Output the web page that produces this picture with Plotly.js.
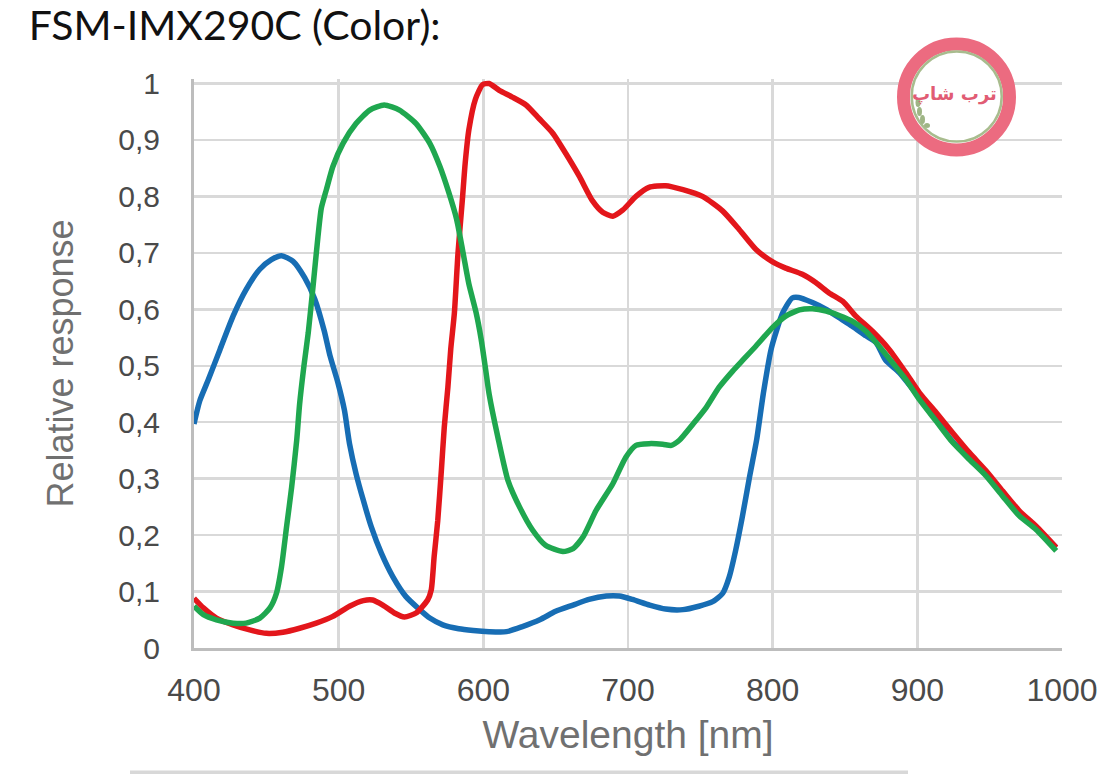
<!DOCTYPE html>
<html>
<head>
<meta charset="utf-8">
<script src="https://cdn.plot.ly/plotly-3.0.1.min.js"></script>
<style>
  html, body { margin: 0; padding: 0; background: #fff; }
  #graphDiv { width: 1103px; height: 774px; }
</style>
</head>
<body>
<div id="graphDiv"></div>
<script>
// values (nm, relative response)
let blueNm = [400, 404, 410, 418, 427, 436, 445.5, 453.5, 460.5, 468.5, 476.5, 483.5, 490, 494, 499.5, 504, 507.5, 512, 517, 522.5, 529.5, 537.5, 546.5, 556, 563, 572, 583, 593, 604, 616, 627, 639, 650, 662, 673, 685, 694, 703, 715, 726, 738, 749, 758.5, 765.5, 770, 774.5, 779, 784, 789, 793.5, 799, 807, 813.5, 818, 827.5, 837, 846, 855, 864.5, 871.5, 878, 887.5, 901, 913, 924, 936, 947.5, 959, 970.5, 982, 996];
let blueResp = [0.397, 0.438, 0.476, 0.529, 0.588, 0.635, 0.671, 0.688, 0.695, 0.685, 0.656, 0.618, 0.562, 0.518, 0.47, 0.421, 0.362, 0.309, 0.262, 0.215, 0.168, 0.126, 0.091, 0.068, 0.053, 0.041, 0.034, 0.031, 0.029, 0.029, 0.038, 0.05, 0.065, 0.076, 0.086, 0.092, 0.092, 0.086, 0.076, 0.069, 0.068, 0.074, 0.082, 0.097, 0.126, 0.174, 0.232, 0.303, 0.37, 0.45, 0.53, 0.594, 0.62, 0.621, 0.612, 0.6, 0.585, 0.57, 0.553, 0.541, 0.51, 0.488, 0.445, 0.405, 0.367, 0.336, 0.307, 0.272, 0.237, 0.213, 0.178];

let greenNm = [400, 406.5, 415.5, 427, 436, 445.5, 452.5, 457, 460.5, 464, 467.5, 471, 473, 476, 479, 482.3, 485.7, 488, 491.5, 496, 503, 512, 521.5, 531.5, 542, 553.5, 563, 570, 576, 581.5, 586, 590, 595, 598.5, 601.5, 604, 610, 617, 625, 634, 643, 655, 662, 669, 678, 689.5, 698.5, 705.5, 714.5, 724, 730, 735.5, 745, 754, 763, 772.5, 779, 788.5, 800, 809, 818.5, 827.5, 837, 846, 855, 864.5, 873.5, 883, 892, 901.5, 913, 924.5, 936, 947.5, 959, 970.5, 982, 996];
let greenResp = [0.074, 0.059, 0.05, 0.044, 0.044, 0.053, 0.071, 0.097, 0.144, 0.215, 0.285, 0.368, 0.432, 0.5, 0.559, 0.641, 0.729, 0.779, 0.812, 0.853, 0.894, 0.929, 0.953, 0.962, 0.953, 0.929, 0.894, 0.853, 0.808, 0.76, 0.7, 0.645, 0.594, 0.547, 0.495, 0.45, 0.374, 0.297, 0.25, 0.209, 0.182, 0.171, 0.176, 0.197, 0.244, 0.291, 0.338, 0.359, 0.362, 0.361, 0.359, 0.368, 0.397, 0.426, 0.462, 0.491, 0.509, 0.535, 0.568, 0.588, 0.599, 0.601, 0.597, 0.589, 0.579, 0.561, 0.535, 0.505, 0.476, 0.44, 0.402, 0.364, 0.334, 0.305, 0.269, 0.234, 0.21, 0.172];

let redNm = [400, 406.5, 415.5, 427, 438.5, 450, 461.5, 473, 484.5, 496, 507.5, 517, 523.5, 530.5, 538.5, 545.5, 553.5, 561.5, 564, 566, 568.5, 571, 573, 575.5, 577.5, 580, 582.5, 585.5, 587.5, 590, 594.5, 599.5, 604, 611, 620, 629.5, 638.5, 648, 657, 666.5, 675.5, 682.5, 689.5, 696.5, 705.5, 714.5, 726, 738, 751.5, 765.5, 777, 788.5, 800, 809, 820.5, 830, 839, 848.5, 857.5, 869, 880.5, 892, 901.5, 913, 924.5, 936, 947.5, 959, 970.5, 982, 996];
let redResp = [0.088, 0.071, 0.053, 0.041, 0.032, 0.026, 0.028, 0.035, 0.044, 0.056, 0.074, 0.084, 0.085, 0.076, 0.062, 0.055, 0.062, 0.085, 0.103, 0.162, 0.226, 0.315, 0.391, 0.462, 0.53, 0.594, 0.7, 0.794, 0.86, 0.918, 0.972, 0.998, 1.0, 0.988, 0.976, 0.962, 0.938, 0.912, 0.876, 0.835, 0.792, 0.772, 0.765, 0.776, 0.8, 0.816, 0.819, 0.812, 0.8, 0.774, 0.741, 0.706, 0.684, 0.673, 0.662, 0.647, 0.629, 0.614, 0.588, 0.561, 0.529, 0.488, 0.452, 0.417, 0.381, 0.346, 0.314, 0.278, 0.243, 0.216, 0.178];

let xTickVals = [400, 500, 600, 700, 800, 900, 1000];
let yTickVals = [0, 0.1, 0.2, 0.3, 0.4, 0.5, 0.6, 0.7, 0.8, 0.9, 1];
let yTickLabels = ["0", "0,1", "0,2", "0,3", "0,4", "0,5", "0,6", "0,7", "0,8", "0,9", "1"];

function curve(x, y, color) {
  return {
    type: "scatter",
    mode: "lines",
    x: x,
    y: y,
    hoverinfo: "skip",
    line: { color: color, width: 5.5, shape: "spline", smoothing: 0.6 },
  };
}

// plot box in page pixels: left 194, right 1062, y=1 at 83, y=0 at 648
let plotH = 648 - 78.5;
function paperX(px) { return (px - 194) / 868; }
function paperY(py) { return (648 - py) / plotH; }

function dot(px, py, rx, ry, color) {
  return {
    type: "circle", xref: "paper", yref: "paper",
    xsizemode: "pixel", ysizemode: "pixel",
    xanchor: paperX(px), yanchor: paperY(py),
    x0: -rx, x1: rx, y0: -ry, y1: ry,
    line: { width: 0 },
    fillcolor: color,
  };
}

// round shop stamp in the top right corner
function badge() {
  let shapes = [
    {
      type: "circle", xref: "paper", yref: "paper",
      xsizemode: "pixel", ysizemode: "pixel",
      xanchor: paperX(956.5), yanchor: paperY(96.5),
      x0: -53, x1: 53, y0: -53, y1: 53,
      line: { color: "#ec6b80", width: 13 },
      fillcolor: "#fff",
    },
    {
      type: "circle", xref: "paper", yref: "paper",
      xsizemode: "pixel", ysizemode: "pixel",
      xanchor: paperX(956.7), yanchor: paperY(96),
      x0: -45, x1: 45, y0: -45, y1: 45,
      line: { color: "#a8bc8e", width: 2.5 },
    },
  ];
  shapes.push(dot(918, 102, 2.5, 4.5, "#9fb585"));
  shapes.push(dot(919.5, 111, 2.5, 4.5, "#9fb585"));
  shapes.push(dot(922.5, 119, 2.5, 4.5, "#9fb585"));
  shapes.push(dot(927, 125, 3, 2.5, "#9fb585"));
  // grey strip at the bottom of the screenshot
  shapes.push({
    type: "rect", xref: "paper", yref: "paper",
    x0: paperX(130), x1: paperX(908), y0: paperY(774), y1: paperY(770.5),
    line: { width: 0 },
    fillcolor: "#d8d8d8",
  });
  return shapes;
}

var data = [
  curve(blueNm, blueResp, "#176db4"),
  curve(redNm, redResp, "#e3161b"),
  curve(greenNm, greenResp, "#1fa74f"),
];

var layout = {
  width: 1103,
  height: 774,
  paper_bgcolor: "#fff",
  plot_bgcolor: "#fff",
  showlegend: false,
  margin: { l: 194, r: 41, t: 78.5, b: 126, pad: 0 },
  title: {
    text: "FSM-IMX290C (Color):",
    font: { family: "Lato, 'Open Sans', sans-serif", size: 41, color: "#111" },
    xref: "container", yref: "container",
    x: 0.026, xanchor: "left",
    y: 0.985, yanchor: "top",
  },
  xaxis: {
    range: [400, 1000],
    tickvals: xTickVals,
    showgrid: true,
    gridcolor: "#d9d9d9",
    gridwidth: 2.5,
    zeroline: false,
    showline: true,
    linecolor: "#bdbdbd",
    linewidth: 3,
    ticks: "",
    ticklabelstandoff: 12,
    tickfont: { family: "'Liberation Sans', Arial, sans-serif", size: 32, color: "#4a4a4a" },
    title: {
      text: "Wavelength [nm]",
      standoff: 14,
      font: { family: "'Liberation Sans', Arial, sans-serif", size: 39, color: "#707070" },
    },
  },
  yaxis: {
    range: [0, 1.008],
    tickvals: yTickVals,
    ticktext: yTickLabels,
    showgrid: true,
    gridcolor: "#d9d9d9",
    gridwidth: 2.5,
    zeroline: false,
    showline: true,
    linecolor: "#bdbdbd",
    linewidth: 3,
    ticks: "",
    ticklabelstandoff: 25,
    tickfont: { family: "'Liberation Sans', Arial, sans-serif", size: 30, color: "#4a4a4a" },
    title: {
      text: "Relative response",
      standoff: 34,
      font: { family: "'Liberation Sans', Arial, sans-serif", size: 36, color: "#707070" },
    },
  },
  shapes: badge(),
  annotations: [
    {
      xref: "paper", yref: "paper",
      x: paperX(960), y: paperY(94),
      xshift: 39, yshift: 13,
      text: "<b>ترب شاپ</b>",
      showarrow: false,
      font: { family: "'DejaVu Sans', sans-serif", size: 18, color: "#e15c74" },
    },
  ],
};

Plotly.newPlot("graphDiv", data, layout, { staticPlot: true });
</script>
</body>
</html>
